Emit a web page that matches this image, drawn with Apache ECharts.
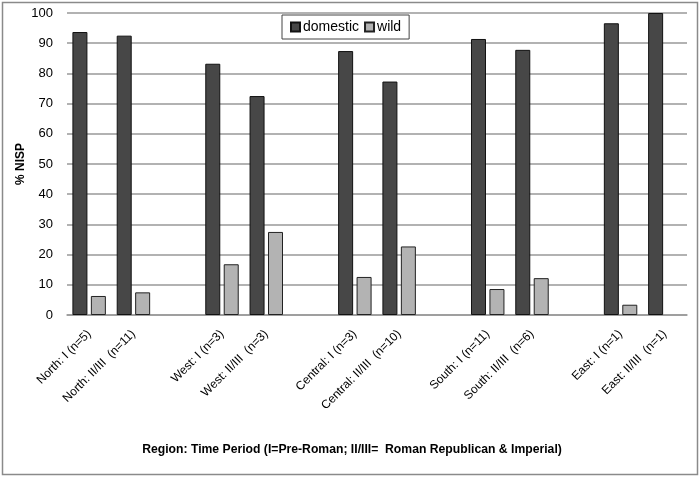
<!DOCTYPE html>
<html>
<head>
<meta charset="utf-8">
<script src="https://cdn.jsdelivr.net/npm/echarts@6/dist/echarts.min.js"></script>
<style>html,body{margin:0;padding:0;background:#fff}#c{width:700px;height:477px}</style>
</head>
<body>
<div id="c"></div>
<script>
const categories = ['North: I (n=5)', 'North: II/III  (n=11)', '', 'West: I (n=3)', 'West: II/III  (n=3)', '', 'Central: I (n=3)', 'Central: II/III  (n=10)', '', 'South: I (n=11)', 'South: II/III  (n=6)', '', 'East: I (n=1)', 'East: II/III  (n=1)'];
const domestic = [93.7, 92.5, null, 83.2, 72.5, null, 87.4, 77.3, null, 91.4, 87.8, null, 96.6, 100];
const wild = [6.3, 7.5, null, 16.8, 27.5, null, 12.6, 22.7, null, 8.6, 12.2, null, 3.4, null];
const yTicks = [0, 10, 20, 30, 40, 50, 60, 70, 80, 90, 100];

const chart = echarts.init(document.getElementById('c'), null, {renderer: 'canvas'});
const font = 'Liberation Sans, Arial, sans-serif';
chart.setOption({
  animation: false,
  backgroundColor: '#fff',
  textStyle: {fontFamily: font},
  grid: {left: 67, right: 13, top: 13, bottom: 162},
  legend: {
    top: 15, left: 282,
    padding: [5, 8, 5, 8],
    itemWidth: 9, itemHeight: 9, itemGap: 5,
    borderColor: '#444', borderWidth: 1, backgroundColor: '#fff',
    icon: 'rect',
    textStyle: {fontFamily: font, fontSize: 14, color: '#000', padding: [0, 0, 0, -2]},
    data: ['domestic', 'wild']
  },
  xAxis: {
    type: 'category',
    data: categories,
    axisLine: {lineStyle: {color: '#999', width: 1.5}},
    axisTick: {show: false},
    axisLabel: {interval: 0, rotate: 45, fontSize: 12, color: '#000', fontFamily: font, margin: 17}
  },
  yAxis: {
    type: 'value', min: yTicks[0], max: yTicks[yTicks.length - 1], interval: 10,
    axisLine: {show: false}, axisTick: {show: false},
    axisLabel: {fontSize: 13, color: '#000', fontFamily: font, margin: 14},
    splitLine: {lineStyle: {color: '#999', width: 1.5}}
  },
  series: [
    {name: 'domestic', type: 'bar', data: domestic, barWidth: 15, barGap: '23%',
     itemStyle: {color: '#474747', borderColor: '#111', borderWidth: 1}},
    {name: 'wild', type: 'bar', data: wild, barWidth: 15,
     itemStyle: {color: '#b3b3b3', borderColor: '#222', borderWidth: 1}}
  ],
  graphic: [
    {type: 'rect', shape: {x: 2.5, y: 2.5, width: 695, height: 472}, style: {fill: null, stroke: '#8a8a8a', lineWidth: 1.5}, silent: true},
    {type: 'text', x: 21, y: 164, rotation: Math.PI / 2, style: {text: '% NISP', fontFamily: font, fontSize: 12, fontWeight: 'bold', fill: '#000', align: 'center', verticalAlign: 'middle'}},
    {type: 'text', x: 352, y: 450, style: {text: 'Region: Time Period (I=Pre-Roman; II/III=  Roman Republican & Imperial)', fontFamily: font, fontSize: 12.2, fontWeight: 'bold', fill: '#000', align: 'center', verticalAlign: 'middle'}}
  ]
});
</script>
</body>
</html>
